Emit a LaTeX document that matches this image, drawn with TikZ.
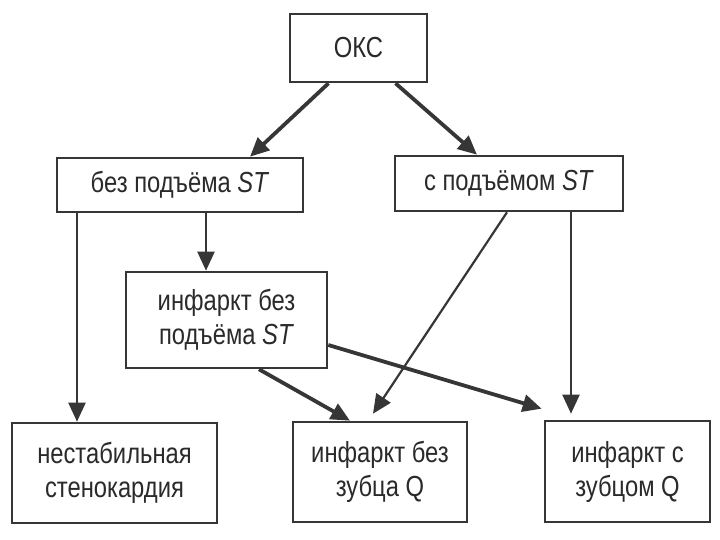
\documentclass[tikz,border=0pt]{standalone}
\usepackage{fontspec}
\setmainfont{Liberation Sans}[FakeStretch=0.82]
\usepackage{tikz}
\usetikzlibrary{arrows.meta}
\definecolor{kline}{HTML}{363636}
\definecolor{ktext}{HTML}{2A2A2A}
\tikzset{
  kbox/.style={draw=kline, line width=2.6pt, fill=white, align=center,
               inner sep=0pt, text=ktext, font=\fontsize{29}{34}\selectfont},
  karr/.style={-{Triangle[length=19pt,width=17pt]}, draw=kline, fill=kline, line width=2.2pt},
  kthick/.style={-{Triangle[length=19pt,width=17pt]}, draw=kline, fill=kline, line width=3.8pt},
}

\begin{document}
\begin{tikzpicture}[x=1pt,y=-1pt]
  \useasboundingbox (0,0) rectangle (720,540);

  % блоки
  \node[kbox, minimum width=137pt, minimum height=68pt] (oks) at (358.5,48) {ОКС};
  \node[kbox, minimum width=246pt, minimum height=54pt] (noST) at (180,185)
    {без подъёма \textit{ST}};
  \node[kbox, minimum width=228pt, minimum height=55pt] (withST) at (509,183.5)
    {с подъёмом \textit{ST}};
  \node[kbox, minimum width=201pt, minimum height=96pt] (nstemi) at (226.5,320)
    {инфаркт без\\подъёма \textit{ST}};
  \node[kbox, minimum width=205pt, minimum height=100pt] (unstab) at (114.5,473)
    {нестабильная\\стенокардия};
  \node[kbox, minimum width=174pt, minimum height=100pt] (nonQ) at (380,472)
    {инфаркт без\\зубца Q};
  \node[kbox, minimum width=165pt, minimum height=101pt] (withQ) at (627.5,471.5)
    {инфаркт с\\зубцом Q};

  % стрелки
  \draw[kthick] ([xshift=-30pt]oks.south) -- ([xshift=70pt]noST.north);
  \draw[kthick] ([xshift=37pt]oks.south) -- ([xshift=-32pt]withST.north);
  \draw[karr] ([xshift=26pt]noST.south) -- ([xshift=-20.5pt]nstemi.north);
  \draw[karr] ([xshift=-103pt]noST.south) -- ([xshift=-37.5pt]unstab.north);
  \draw[karr] ([xshift=-2pt]withST.south) -- ([xshift=-7pt,yshift=7pt]nonQ.north);
  \draw[karr] ([xshift=62pt]withST.south) -- ([xshift=-56.5pt,yshift=6pt]withQ.north);
  \draw[kthick] ([xshift=32.5pt]nstemi.south) -- ([xshift=-30pt]nonQ.north);
  \draw[kthick] ([yshift=-25pt]nstemi.east) -- ([xshift=-2pt,yshift=11pt]withQ.north west);

\end{tikzpicture}
\end{document}
